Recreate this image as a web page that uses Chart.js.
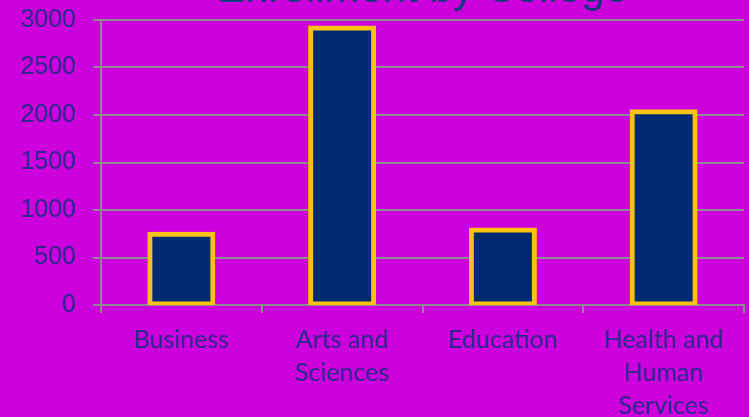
<!DOCTYPE html>
<html>
<head>
<meta charset="utf-8">
<script src="https://cdn.jsdelivr.net/npm/chart.js@4/dist/chart.umd.min.js"></script>
<style>
html,body{margin:0;padding:0;background:#CC00DD;}
#wrap{width:749px;height:417px;position:relative;}
</style>
</head>
<body>
<div id="wrap"><canvas id="c"></canvas></div>
<script>
const categories = ['Business', ['Arts and', 'Sciences'], 'Education', ['Health and', 'Human', 'Services']];
const enrollment = [745, 2915, 790, 2035];
const yTicks = [0, 500, 1000, 1500, 2000, 2500, 3000];

const grid = '#8C8C8C';
const textCol = '#2B2A8C';

new Chart(document.getElementById('c'), {
  type: 'bar',
  data: {
    labels: categories,
    datasets: [{
      data: enrollment,
      backgroundColor: '#002A72',
      borderColor: '#FFC20E',
      borderWidth: 5,
      borderSkipped: false,
      inflateAmount: 2.5,
      barPercentage: 0.392,
      categoryPercentage: 1.0
    }]
  },
  options: {
    responsive: true,
    maintainAspectRatio: false,
    animation: false,
    layout: { padding: { left: 0, right: 5, top: 0, bottom: 0 } },
    plugins: {
      legend: { display: false },
      tooltip: { enabled: false },
      title: {
        display: true,
        text: 'Enrollment by College',
        fullSize: false,
        color: '#0B3A7C',
        font: { family: 'Liberation Sans', size: 42, weight: 'normal' },
        padding: { top: -35.2, bottom: 4.8 }
      }
    },
    scales: {
      x: {
        grid: { display: true, drawOnChartArea: false, drawTicks: true, tickLength: 8, offset: true, color: grid, lineWidth: 2 },
        border: { display: true, color: grid, width: 2 },
        ticks: {
          color: textCol,
          font: { family: 'Lato', size: 25, lineHeight: 1.32 },
          maxRotation: 0, minRotation: 0, autoSkip: false, padding: 10
        },
        afterFit: (s) => { s.height = 112; }
      },
      y: {
        min: 0, max: 3000,
        afterBuildTicks: (s) => { s.ticks = yTicks.map(v => ({ value: v })); },
        grid: { color: grid, lineWidth: 2, tickLength: 8 },
        border: { display: true, color: grid, width: 2 },
        ticks: {
          color: textCol,
          font: { family: 'Liberation Sans', size: 25 },
          padding: 17,
          callback: (v) => String(v)
        },
        afterFit: (s) => { s.width = 101; s.paddingTop = 0; s.paddingBottom = 0; }
      }
    }
  }
});
</script>
</body>
</html>
